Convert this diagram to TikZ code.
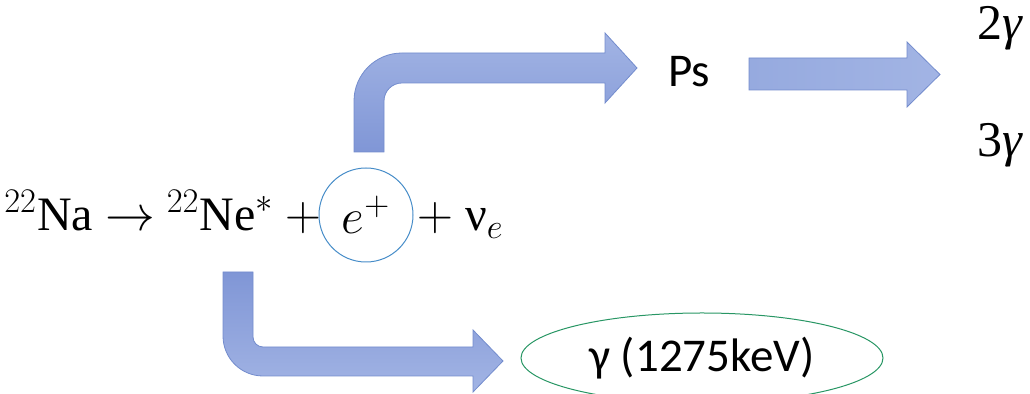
\documentclass[tikz,border=0pt]{standalone}
\usepackage{fontspec}
\newfontfamily\calib{Carlito}
\newfontfamily\tser{Liberation Serif}
\usetikzlibrary{shapes.geometric}
\definecolor{arrlight}{RGB}{162,180,228}
\definecolor{arrmid}{RGB}{150,170,223}
\definecolor{arrdark}{RGB}{128,150,214}
\definecolor{arredge}{RGB}{115,140,205}
\definecolor{circblue}{RGB}{70,140,200}
\definecolor{ellgreen}{RGB}{40,150,100}
\tikzset{
  blockarrow/.style={draw=arredge, line width=0.4pt, line join=miter},
  eqtext/.style={inner sep=0pt, font=\tser\fontsize{24}{29}\selectfont},
  sanstext/.style={inner sep=0pt, font=\calib\fontsize{23.5}{28}\selectfont},
  mathtext/.style={inner sep=0pt, font=\fontsize{25}{30}\selectfont},
  gamtext/.style={inner sep=0pt, font=\tser\fontsize{25}{30}\selectfont},
}
\begin{document}
\begin{tikzpicture}[x=0.5pt, y=-0.5pt]
\useasboundingbox (0,0) rectangle (1030,394);
% arrows
\shade[blockarrow, top color=arrlight, bottom color=arrdark] (354,152) -- (354,101) arc[start angle=180, end angle=270, radius=48]
  -- (605,53) -- (605,33) -- (637,68) -- (605,103) -- (605,83) -- (402,83)
  arc[start angle=270, end angle=180, radius=18] -- (384,152) -- cycle;
\shade[blockarrow, left color=arrmid, right color=arrlight] (749,58) -- (907,58) -- (907,42) -- (940,74.5) -- (907,107) -- (907,90) -- (749,90) -- cycle;
\shade[blockarrow, top color=arrdark, bottom color=arrlight] (223,272) -- (223,336) arc[start angle=180, end angle=90, radius=40]
  -- (473,376) -- (473,392) -- (503,361) -- (473,330) -- (473,347) -- (263,347)
  arc[start angle=90, end angle=180, radius=10] -- (253,272) -- cycle;
% equation
\node[eqtext, anchor=base east] (eqL) at (322,231) {$^{22}$Na $\rightarrow$ $^{22}$Ne$^{*}$ $+$};
\node[circle, draw=circblue, line width=0.5pt, minimum size=47pt, inner sep=0pt, mathtext] (ep) at (366,215) {$e^{+}$};
\node[eqtext, anchor=base west] (eqR) at (417,231) {$+$ ν$_{e}$};
% products
\node[sanstext, anchor=base west] (ps) at (668,87) {Ps};
\node[gamtext, anchor=base west] (g2) at (977,40) {2\textit{γ}};
\node[gamtext, anchor=base west] (g3) at (977,157) {3\textit{γ}};
\node[ellipse, draw=ellgreen, line width=0.5pt, minimum width=181pt, minimum height=45pt, inner sep=0pt, sanstext] (gam) at (702,358) {γ (1275keV)};
\end{tikzpicture}
\end{document}
